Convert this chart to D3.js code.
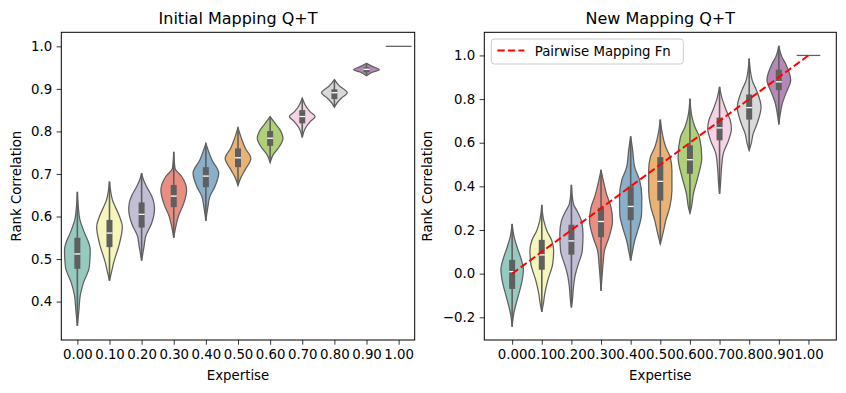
<!DOCTYPE html>
<html>
<head>
<meta charset="utf-8">
<script src="https://cdn.jsdelivr.net/npm/d3@7"></script>
<style>
  body { margin: 0; background: #fff; }
  svg { font-family: "DejaVu Sans", sans-serif; }
</style>
</head>
<body>
<svg id="chart" width="846" height="393"></svg>
<script>
// categories and tick labels
var expertise = ["0.00", "0.10", "0.20", "0.30", "0.40", "0.50", "0.60", "0.70", "0.80", "0.90", "1.00"];
var palette = ["#8dd3c7", "#ffffb3", "#bebada", "#fb8072", "#80b1d3", "#fdb462", "#b3de69", "#fccde5", "#d9d9d9", "#bc80bd", "#ccebc5"];
var leftTicks = [0.4, 0.5, 0.6, 0.7, 0.8, 0.9, 1.0];
var rightTicks = [-0.2, 0.0, 0.2, 0.4, 0.6, 0.8, 1.0];

// violin outlines: [rank correlation, relative half width]
var initialShapes = [
  [[0.658,0],[0.62,0.08],[0.592,0.2],[0.568,0.47],[0.522,1.0],[0.482,0.93],[0.444,0.47],[0.416,0.23],[0.38,0.12],[0.343,0]],
  [[0.682,0],[0.639,0.23],[0.6,0.78],[0.576,1.0],[0.537,0.78],[0.49,0.31],[0.47,0.16],[0.449,0]],
  [[0.702,0],[0.685,0.16],[0.67,0.39],[0.647,0.8],[0.63,0.97],[0.616,1.0],[0.584,0.78],[0.553,0.31],[0.53,0.19],[0.496,0]],
  [[0.752,0],[0.713,0.1],[0.694,0.62],[0.662,1.0],[0.631,0.78],[0.6,0.35],[0.576,0.16],[0.55,0]],
  [[0.772,0],[0.733,0.47],[0.702,1.0],[0.67,0.7],[0.647,0.31],[0.623,0.16],[0.59,0]],
  [[0.809,0],[0.78,0.31],[0.76,0.58],[0.737,1.0],[0.709,0.54],[0.692,0.23],[0.673,0]],
  [[0.835,0],[0.819,0.39],[0.803,0.78],[0.784,1.0],[0.76,0.62],[0.745,0.23],[0.727,0]],
  [[0.878,0],[0.858,0.31],[0.846,0.62],[0.835,1.0],[0.823,0.62],[0.807,0.23],[0.786,0]],
  [[0.922,0],[0.907,0.39],[0.891,1.0],[0.878,0.54],[0.868,0.23],[0.857,0]],
  [[0.96,0],[0.953,0.45],[0.945,1.0],[0.939,0.45],[0.931,0]],
  [[1.0,0],[1.0,0]]
];
var initialQ1 = [0.477, 0.528, 0.574, 0.622, 0.669, 0.716, 0.766, 0.819, 0.876, 0.939, 1.0];
var initialMed = [0.512, 0.561, 0.605, 0.648, 0.695, 0.738, 0.784, 0.835, 0.891, 0.946, 1.0];
var initialQ3 = [0.55, 0.592, 0.633, 0.674, 0.716, 0.76, 0.801, 0.85, 0.899, 0.951, 1.0];

var newShapes = [
  [[0.228,0],[0.167,0.17],[0.121,0.42],[0.067,0.76],[0.021,0.95],[-0.032,0.84],[-0.093,0.56],[-0.147,0.29],[-0.185,0.13],[-0.243,0]],
  [[0.315,0],[0.243,0.17],[0.198,0.42],[0.152,0.84],[0.106,1.0],[0.045,0.92],[-0.032,0.5],[-0.093,0.25],[-0.139,0.13],[-0.175,0]],
  [[0.407,0],[0.32,0.17],[0.289,0.46],[0.243,0.84],[0.182,0.98],[0.106,0.92],[0.045,0.59],[-0.002,0.34],[-0.063,0.17],[-0.124,0.08],[-0.155,0]],
  [[0.476,0],[0.412,0.25],[0.358,0.5],[0.305,0.84],[0.243,0.97],[0.167,0.67],[0.106,0.29],[0.045,0.17],[-0.017,0.08],[-0.078,0]],
  [[0.629,0],[0.565,0.17],[0.488,0.34],[0.427,0.76],[0.35,0.94],[0.274,0.92],[0.198,0.6],[0.152,0.34],[0.106,0.17],[0.06,0]],
  [[0.706,0],[0.642,0.17],[0.58,0.46],[0.534,0.84],[0.473,0.98],[0.381,0.98],[0.305,0.8],[0.243,0.46],[0.19,0.25],[0.136,0]],
  [[0.802,0],[0.718,0.17],[0.672,0.42],[0.626,0.8],[0.534,1.0],[0.442,0.67],[0.366,0.29],[0.305,0.13],[0.277,0]],
  [[0.856,0],[0.795,0.25],[0.749,0.56],[0.703,0.9],[0.665,1.0],[0.611,0.76],[0.55,0.31],[0.488,0.17],[0.412,0.08],[0.366,0]],
  [[0.986,0],[0.887,0.25],[0.841,0.61],[0.764,1.0],[0.688,0.67],[0.642,0.34],[0.596,0.17],[0.565,0]],
  [[1.044,0],[0.994,0.25],[0.963,0.56],[0.887,1.0],[0.825,0.59],[0.779,0.29],[0.734,0.13],[0.684,0]],
  [[1.0,0],[1.0,0]]
];
var newQ1 = [-0.07, 0.018, 0.087, 0.167, 0.245, 0.335, 0.458, 0.611, 0.706, 0.841, 1.0];
var newMed = [0.009, 0.086, 0.15, 0.239, 0.308, 0.423, 0.522, 0.668, 0.761, 0.879, 1.0];
var newQ3 = [0.063, 0.155, 0.224, 0.302, 0.4, 0.534, 0.588, 0.715, 0.821, 0.935, 1.0];

// the dashed reference line on the right panel
var pairwiseMapping = [0.0, 0.1, 0.2, 0.3, 0.4, 0.5, 0.6, 0.7, 0.8, 0.9, 1.0];

var svg = d3.select("#chart");
var edgeGray = "#5f5f5f";

function desat(c) {
  var h = d3.hsl(c);
  h.s = h.s * 0.75;
  return h.formatHex();
}

function drawPanel(opt) {
  var x = d3.scaleLinear().domain(opt.xDomain).range([opt.left, opt.right]);
  var y = d3.scaleLinear().domain(opt.yDomain).range([opt.bottom, opt.top]);
  var g = svg.append("g");
  var half = 0.4; // violin half width in category units

  opt.shapes.forEach(function(shape, i) {
    var cx = x(i);
    var hw = x(i + half) - x(i);
    var flat = shape[0][0] === shape[shape.length - 1][0];
    if (flat) {
      g.append("line")
        .attr("x1", x(i - half)).attr("x2", x(i + half))
        .attr("y1", y(shape[0][0])).attr("y2", y(shape[0][0]))
        .attr("stroke", edgeGray).attr("stroke-width", 1.25);
      return;
    }
    var area = d3.area()
      .y(function(d) { return y(d[0]); })
      .x0(function(d) { return cx - d[1] * hw; })
      .x1(function(d) { return cx + d[1] * hw; })
      .curve(d3.curveMonotoneY);
    g.append("path")
      .attr("d", area(shape))
      .attr("fill", desat(palette[i]))
      .attr("stroke", edgeGray)
      .attr("stroke-width", 1.25);

    // inner box
    g.append("line")
      .attr("x1", cx).attr("x2", cx)
      .attr("y1", y(shape[0][0])).attr("y2", y(shape[shape.length - 1][0]))
      .attr("stroke", edgeGray).attr("stroke-width", 1.6);
    g.append("rect")
      .attr("x", cx - 3).attr("width", 6)
      .attr("y", y(opt.q3[i])).attr("height", y(opt.q1[i]) - y(opt.q3[i]))
      .attr("fill", edgeGray);
    g.append("line")
      .attr("x1", cx - 3).attr("x2", cx + 3)
      .attr("y1", y(opt.med[i])).attr("y2", y(opt.med[i]))
      .attr("stroke", "#fff").attr("stroke-width", 1.3);
  });

  if (opt.mapping) {
    var line = d3.line()
      .x(function(d, i) { return x(i); })
      .y(function(d) { return y(d); });
    g.append("path")
      .datum(opt.mapping)
      .attr("d", line)
      .attr("fill", "none")
      .attr("stroke", "red")
      .attr("stroke-width", 2)
      .attr("stroke-dasharray", "7.4,3.2");
  }

  // axes
  var xAxis = d3.axisBottom(x)
    .tickValues(d3.range(expertise.length))
    .tickFormat(function(d) { return expertise[d]; })
    .tickSize(4.7).tickPadding(4.5);
  var yAxis = d3.axisLeft(y)
    .tickValues(opt.yTicks)
    .tickFormat(function(d) { return d3.format(".1f")(d).replace("-", "\u2212"); })
    .tickSize(4.7).tickPadding(4.5);

  var gx = svg.append("g").attr("transform", "translate(0," + opt.bottom + ")").call(xAxis);
  var gy = svg.append("g").attr("transform", "translate(" + opt.left + ",0)").call(yAxis);
  [gx, gy].forEach(function(a) {
    a.select(".domain").remove();
    a.selectAll("line").attr("stroke", "#000").attr("stroke-width", 0.8);
    a.selectAll("text").attr("fill", "#000").style("font-size", "13.3px").style("font-family", "DejaVu Sans");
  });

  svg.append("rect")
    .attr("x", opt.left).attr("y", opt.top)
    .attr("width", opt.right - opt.left).attr("height", opt.bottom - opt.top)
    .attr("fill", "none").attr("stroke", "#000").attr("stroke-width", 1);

  svg.append("text")
    .attr("x", (opt.left + opt.right) / 2).attr("y", 23.5)
    .attr("text-anchor", "middle")
    .style("font-size", "16px")
    .text(opt.title);
  svg.append("text")
    .attr("x", (opt.left + opt.right) / 2).attr("y", 379.5)
    .attr("text-anchor", "middle")
    .style("font-size", "13.3px")
    .text("Expertise");
  svg.append("text")
    .attr("transform", "translate(" + opt.yLabelX + "," + (opt.top + opt.bottom) / 2 + ") rotate(-90)")
    .attr("text-anchor", "middle")
    .style("font-size", "13.3px")
    .text("Rank Correlation");

  if (opt.mapping) {
    var lg = svg.append("g");
    lg.append("rect")
      .attr("x", opt.left + 7).attr("y", 39)
      .attr("width", 192).attr("height", 25)
      .attr("rx", 3)
      .attr("fill", "#fff").attr("fill-opacity", 0.8)
      .attr("stroke", "#cccccc").attr("stroke-width", 1);
    lg.append("line")
      .attr("x1", opt.left + 13).attr("x2", opt.left + 40)
      .attr("y1", 50.5).attr("y2", 50.5)
      .attr("stroke", "red").attr("stroke-width", 2)
      .attr("stroke-dasharray", "7.4,3.2");
    lg.append("text")
      .attr("x", opt.left + 50.5).attr("y", 55.5)
      .style("font-size", "13.3px")
      .text("Pairwise Mapping Fn");
  }
}

drawPanel({
  title: "Initial Mapping Q+T",
  left: 61.3, right: 414.7, top: 32.3, bottom: 340,
  xDomain: [-0.5, 10.5], yDomain: [0.3097, 1.033],
  yTicks: leftTicks, yLabelX: 21,
  shapes: initialShapes, q1: initialQ1, med: initialMed, q3: initialQ3
});

drawPanel({
  title: "New Mapping Q+T",
  left: 484.3, right: 836.3, top: 32.3, bottom: 340,
  xDomain: [-0.94, 10.94], yDomain: [-0.304, 1.106],
  yTicks: rightTicks, yLabelX: 432,
  shapes: newShapes, q1: newQ1, med: newMed, q3: newQ3,
  mapping: pairwiseMapping
});
</script>
</body>
</html>
